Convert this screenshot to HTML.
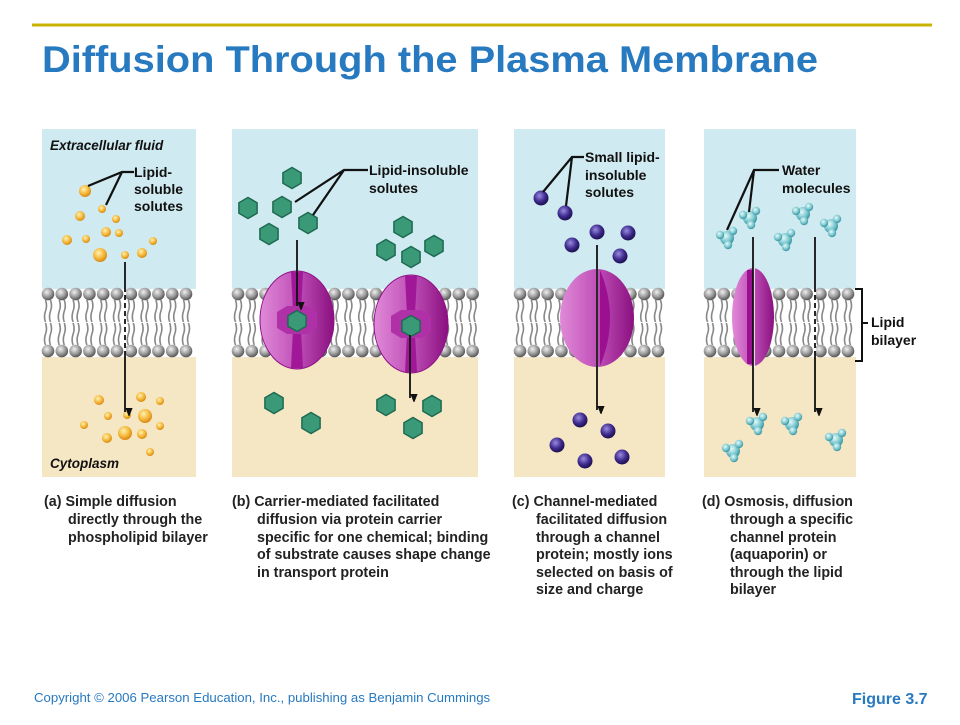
<!DOCTYPE html><html><head><style>
body{margin:0;background:#fff;width:960px;height:720px;overflow:hidden;font-family:"Liberation Sans",sans-serif}
svg text{font-family:"Liberation Sans",sans-serif}
</style></head><body>
<svg id="s" width="960" height="720" xmlns="http://www.w3.org/2000/svg">
<defs>
<radialGradient id="og" cx="40%" cy="35%" r="65%"><stop offset="0" stop-color="#fff2b0"/><stop offset="0.6" stop-color="#f4b83c"/><stop offset="1" stop-color="#d98a10"/></radialGradient>
<radialGradient id="pg" cx="40%" cy="35%" r="65%"><stop offset="0" stop-color="#9a8ae0"/><stop offset="0.6" stop-color="#3d2a8c"/><stop offset="1" stop-color="#1d1050"/></radialGradient>
<radialGradient id="wg" cx="40%" cy="35%" r="65%"><stop offset="0" stop-color="#e6fafa"/><stop offset="0.6" stop-color="#7cc8d0"/><stop offset="1" stop-color="#3a949e"/></radialGradient>
<radialGradient id="hg" cx="40%" cy="35%" r="65%"><stop offset="0" stop-color="#f0f0f0"/><stop offset="0.6" stop-color="#9a9a9a"/><stop offset="1" stop-color="#555"/></radialGradient>
<linearGradient id="mg" x1="0" x2="1"><stop offset="0" stop-color="#e08ad8"/><stop offset="0.5" stop-color="#c050b8"/><stop offset="1" stop-color="#8a1080"/></linearGradient>
<marker id="ar" markerWidth="8" markerHeight="10" refX="4" refY="9" orient="auto" markerUnits="userSpaceOnUse"><path d="M0,0 L8,0 L4,10z" fill="#111" transform="rotate(-90 4 5)"/></marker>
</defs>
<line x1="32" y1="25" x2="932" y2="25" stroke="#c8b400" stroke-width="3"/>
<text x="42" y="72" font-size="37" font-weight="bold" fill="#2779c0" textLength="776" lengthAdjust="spacingAndGlyphs">Diffusion Through the Plasma Membrane</text>
<g id="panels"></g>
<g font-size="14" font-weight="bold" fill="#111">
<text x="50" y="150" font-style="italic" font-size="13.5">Extracellular fluid</text>
<text x="50" y="468" font-style="italic" font-size="13.5">Cytoplasm</text>
<text x="134" y="177">Lipid-</text><text x="134" y="194">soluble</text><text x="134" y="211">solutes</text>
<text x="369" y="175">Lipid-insoluble</text><text x="369" y="193">solutes</text>
<text x="585" y="162">Small lipid-</text><text x="585" y="180">insoluble</text><text x="585" y="197">solutes</text>
<text x="782" y="175">Water</text><text x="782" y="193">molecules</text>
<text x="871" y="327">Lipid</text><text x="871" y="345">bilayer</text>
</g>
<g font-size="14.3" font-weight="bold" fill="#222">
<text x="44" y="506">(a) Simple diffusion</text><text x="68" y="524">directly through the</text><text x="68" y="542">phospholipid bilayer</text>
<text x="232" y="506">(b) Carrier-mediated facilitated</text><text x="257" y="524">diffusion via protein carrier</text><text x="257" y="542">specific for one chemical; binding</text><text x="257" y="559">of substrate causes shape change</text><text x="257" y="577">in transport protein</text>
<text x="512" y="506">(c) Channel-mediated</text><text x="536" y="524">facilitated diffusion</text><text x="536" y="542">through a channel</text><text x="536" y="559">protein; mostly ions</text><text x="536" y="577">selected on basis of</text><text x="536" y="594">size and charge</text>
<text x="702" y="506">(d) Osmosis, diffusion</text><text x="730" y="524">through a specific</text><text x="730" y="542">channel protein</text><text x="730" y="559">(aquaporin) or</text><text x="730" y="577">through the lipid</text><text x="730" y="594">bilayer</text>
</g>
<text x="34" y="702" font-size="13.2" fill="#2779c0">Copyright © 2006 Pearson Education, Inc., publishing as Benjamin Cummings</text>
<text x="852" y="704" font-size="16" font-weight="bold" fill="#2779c0">Figure 3.7</text>
</svg>
<script>
const NS="http://www.w3.org/2000/svg",P=document.getElementById('panels');
function el(t,a,par){const e=document.createElementNS(NS,t);for(const k in a)e.setAttribute(k,a[k]);(par||P).appendChild(e);return e;}
const panels=[[42,196],[232,478],[514,665],[704,856]];
panels.forEach(([x1,x2])=>{
 el('rect',{x:x1,y:129,width:x2-x1,height:160,fill:'#cfeaf0'});
 el('rect',{x:x1,y:289,width:x2-x1,height:68,fill:'#fff'});
 el('rect',{x:x1,y:357,width:x2-x1,height:120,fill:'#f5e6c4'});
 for(let x=x1+6;x<=x2-4;x+=13.8){
  for(const dx of[-2.5,2.5]){
   el('path',{d:`M${x+dx},300 q2,6 0,11 q-2,6 0,11`,stroke:'#888',fill:'none','stroke-width':1.6});
   el('path',{d:`M${x+dx},323 q2,6 0,11 q-2,6 0,11`,stroke:'#888',fill:'none','stroke-width':1.6});
  }
  el('circle',{cx:x,cy:294,r:6.3,fill:'url(#hg)'});
  el('circle',{cx:x,cy:351,r:6.3,fill:'url(#hg)'});
 }
});
function carrier(cx,cy){
 el('ellipse',{cx,cy,rx:37,ry:49,fill:'url(#mg)',stroke:'#901088','stroke-width':1});
 el('path',{d:`M${cx-6},${cy-48} L${cx-4},${cy-10} L${cx+4},${cy-10} L${cx+6},${cy-48}z M${cx-6},${cy+48} L${cx-4},${cy+10} L${cx+4},${cy+10} L${cx+6},${cy+48}z`,fill:'#a01898'});
 el('path',{d:`M${cx-20},${cy-8} L${cx-10},${cy-14} L${cx+10},${cy-14} L${cx+20},${cy-8} L${cx+20},${cy+8} L${cx+10},${cy+14} L${cx-10},${cy+14} L${cx-20},${cy+8}z`,fill:'#b030a8'});
}
carrier(297,320);carrier(411,324);
el('ellipse',{cx:597,cy:318,rx:37,ry:49,fill:'url(#mg)'});
el('path',{d:'M597,268 L597,370',stroke:'#fff',"stroke-width":2});
el('path',{d:'M600,270 q20,48 0,96',fill:'#9a1090'});
el('ellipse',{cx:753,cy:317,rx:21,ry:49,fill:'url(#mg)'});
el('rect',{x:747,y:270,width:6,height:94,fill:'#9a1090'});
el('path',{d:'M754,268 L754,368',stroke:'#fff',"stroke-width":1.5});
function hex(cx,cy,r){let p='';for(let i=0;i<6;i++){const a=Math.PI/3*i+Math.PI/6;p+=(cx+r*Math.cos(a))+','+(cy+r*Math.sin(a))+' ';}el('polygon',{points:p,fill:'#3a9a78',stroke:'#1e6a52','stroke-width':1.5});}
[[292,178],[248,208],[282,207],[269,234],[308,223],[403,227],[386,250],[411,257],[434,246],[274,403],[311,423],[386,405],[432,406],[413,428],[297,321],[411,326]].forEach(p=>hex(p[0],p[1],10.5));
[[85,191,6],[102,209,4],[80,216,5],[116,219,4],[106,232,5],[119,233,4],[67,240,5],[86,239,4],[153,241,4],[100,255,7],[125,255,4],[142,253,5],[99,400,5],[141,397,5],[160,401,4],[108,416,4],[127,415,4],[145,416,7],[160,426,4],[84,425,4],[107,438,5],[125,433,7],[142,434,5],[150,452,4]].forEach(p=>el('circle',{cx:p[0],cy:p[1],r:p[2],fill:'url(#og)'}));
[[541,198],[565,213],[572,245],[597,232],[628,233],[620,256],[580,420],[608,431],[557,445],[585,461],[622,457]].forEach(p=>el('circle',{cx:p[0],cy:p[1],r:7.5,fill:'url(#pg)'}));
function water(cx,cy){el('circle',{cx,cy,r:7,fill:'url(#wg)'});el('circle',{cx:cx-7,cy:cy-3,r:4.2,fill:'url(#wg)'});el('circle',{cx:cx+6,cy:cy-7,r:4.2,fill:'url(#wg)'});el('circle',{cx:cx+1,cy:cy+7,r:4.2,fill:'url(#wg)'});}
[[727,238],[750,218],[803,214],[785,240],[831,226],[757,424],[792,424],[733,451],[836,440]].forEach(p=>water(p[0],p[1]));
const L={stroke:'#111','stroke-width':2.2,fill:'none'};
el('path',Object.assign({d:'M134,172 L122,172 L88,186 M122,172 L106,205'},L));
el('path',Object.assign({d:'M368,170 L344,170 L295,202 M344,170 L313,215'},L));
el('path',Object.assign({d:'M584,157 L572,157 L543,192 M572,157 L566,206'},L));
el('path',Object.assign({d:'M779,170 L754,170 L727,230 M754,170 L749,212'},L));
el('path',{d:'M855,289 L862,289 L862,361 L855,361 M862,323 L868,323',stroke:'#111','stroke-width':2,fill:'none'});
const A={stroke:'#111','stroke-width':1.8,'marker-end':'url(#ar)'};
function arrow(x,y1,y2,dash){el('line',Object.assign({x1:x,y1,x2:x,y2},A));if(dash)for(let y=292;y<356;y+=8)el('line',{x1:x,y1:y,x2:x,y2:y+3,stroke:'#fff','stroke-width':2.5});}
arrow(125,262,412,true);arrow(297,240,306);arrow(410,335,398);arrow(597,245,410);arrow(753,237,412);arrow(815,237,412,true);
</script>
</body></html>
